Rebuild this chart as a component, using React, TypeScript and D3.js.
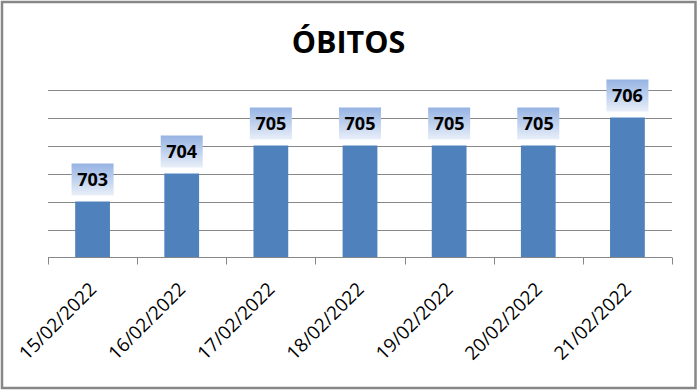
import React from "react";
import * as d3 from "d3";

const categories = ["15/02/2022", "16/02/2022", "17/02/2022", "18/02/2022", "19/02/2022", "20/02/2022", "21/02/2022"];
const values = [703, 704, 705, 705, 705, 705, 706];
const gridTicks = [701, 702, 703, 704, 705, 706, 707];
const title = "ÓBITOS";

const W = 698;
const H = 391;
const plot = { left: 48, right: 672, top: 89.5, bottom: 257.5 };

export default function App() {
  const x = d3.scaleBand<string>().domain(categories).range([plot.left, plot.right]).paddingInner(0.61).paddingOuter(0.305);
  const xb = d3.scaleBand<string>().domain(categories).range([plot.left, plot.right]);
  const y = d3.scaleLinear().domain([701, 707]).range([plot.bottom, plot.top]);
  const boundaries = [plot.left, ...categories.map((c) => (xb(c) as number) + xb.bandwidth())];
  const font = "'Open Sans', 'DejaVu Sans', sans-serif";
  return (
    <svg width={W} height={H} style={{ position: "absolute", left: 0, top: 0 }} xmlns="http://www.w3.org/2000/svg">
      <defs>
        <linearGradient id="lblGrad" x1="0" y1="0" x2="0" y2="1">
          <stop offset="0" stopColor="#95b3e3" />
          <stop offset="1" stopColor="#e9eff9" />
        </linearGradient>
      </defs>
      <rect x={0} y={0} width={W} height={H} fill="#fff" />
      <rect x={2} y={2} width={693.5} height={386} fill="none" stroke="#878787" strokeWidth={2.5} />
      <text x={348.5} y={52.5} textAnchor="middle" fontFamily={font} fontWeight="bold" fontSize={30.5} fill="#000">{title}</text>
      {gridTicks.slice(1).map((t) => (
        <line key={t} x1={plot.left} x2={plot.right} y1={Math.round(y(t)) + 0.5} y2={Math.round(y(t)) + 0.5} stroke="#878787" strokeWidth={1} />
      ))}
      {categories.map((c, i) => (
        <rect key={c} x={x(c)} y={y(values[i])} width={x.bandwidth()} height={plot.bottom - y(values[i])} fill="#4f81bd" />
      ))}
      <line x1={plot.left} x2={plot.right} y1={plot.bottom} y2={plot.bottom} stroke="#878787" strokeWidth={1} />
      {boundaries.map((bx, i) => (
        <line key={i} x1={Math.round(bx) + 0.5} x2={Math.round(bx) + 0.5} y1={plot.bottom} y2={plot.bottom + 7} stroke="#878787" strokeWidth={1} />
      ))}
      {categories.map((c, i) => {
        const cx = (x(c) as number) + x.bandwidth() / 2;
        const top = y(values[i]);
        return (
          <g key={c}>
            <rect x={cx - 21} y={top - 38} width={42} height={32} fill="url(#lblGrad)" />
            <text x={cx} y={top - 15.5} textAnchor="middle" fontFamily={font} fontWeight="bold" fontSize={18} fill="#000">{values[i]}</text>
          </g>
        );
      })}
      {categories.map((c) => {
        const cx = (xb(c) as number) + xb.bandwidth() / 2;
        return (
          <text key={c} transform={`translate(${cx + 5},${plot.bottom + 33}) rotate(-45)`} textAnchor="end" fontFamily={font} fontSize={18.8} fill="#000">{c}</text>
        );
      })}
    </svg>
  );
}
